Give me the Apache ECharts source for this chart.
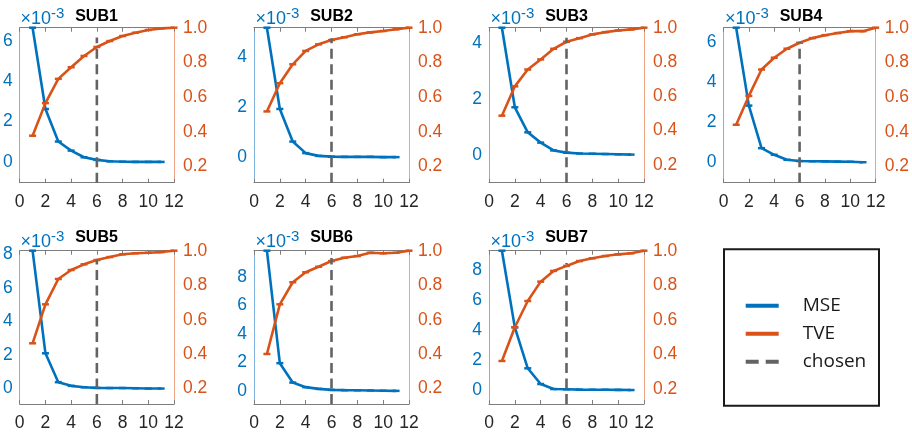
<!DOCTYPE html>
<html>
<head>
<meta charset="utf-8">
<script src="https://cdn.jsdelivr.net/npm/echarts@6/dist/echarts.min.js"></script>
<style>
  html, body { margin: 0; padding: 0; background: #ffffff; }
  #chart { width: 912px; height: 440px; }
</style>
</head>
<body>
<div id="chart"></div>
<script>
// ---- data -------------------------------------------------------------
const subjects = ['SUB1', 'SUB2', 'SUB3', 'SUB4', 'SUB5', 'SUB6', 'SUB7'];

// number of retained components
const tveComponents = [1, 2, 3, 4, 5, 6, 7, 8, 9, 10, 11, 12];
const mseComponents = [1, 2, 3, 4, 5, 6, 7, 8, 9, 10, 11];

// reconstruction error, in units of 1e-3
const mseSub1 = [6.65, 2.62, 1.01, 0.56, 0.23, 0.10, 0.03, 0.01, 0.00, 0.00, 0.00];
const mseSub2 = [5.16, 1.92, 0.62, 0.16, 0.05, 0.02, 0.01, 0.01, 0.01, 0.00, 0.00];
const mseSub3 = [4.57, 1.71, 0.81, 0.44, 0.16, 0.08, 0.05, 0.04, 0.03, 0.02, 0.01];
const mseSub4 = [6.70, 2.82, 0.70, 0.37, 0.12, 0.06, 0.05, 0.04, 0.03, 0.02, 0.00];
const mseSub5 = [8.21, 2.10, 0.38, 0.16, 0.08, 0.04, 0.03, 0.03, 0.02, 0.00, 0.00];
const mseSub6 = [9.82, 1.94, 0.58, 0.26, 0.14, 0.07, 0.05, 0.04, 0.03, 0.01, 0.00];
const mseSub7 = [9.29, 4.18, 1.45, 0.40, 0.07, 0.05, 0.03, 0.02, 0.02, 0.01, 0.00];

// total variance explained
const tveSub1 = [0.377, 0.565, 0.705, 0.772, 0.837, 0.889, 0.923, 0.952, 0.971, 0.987, 0.996, 1.000];
const tveSub2 = [0.517, 0.680, 0.789, 0.866, 0.904, 0.929, 0.945, 0.962, 0.973, 0.981, 0.991, 1.000];
const tveSub3 = [0.487, 0.658, 0.756, 0.815, 0.877, 0.918, 0.939, 0.961, 0.974, 0.984, 0.990, 1.000];
const tveSub4 = [0.441, 0.607, 0.759, 0.827, 0.879, 0.913, 0.940, 0.957, 0.969, 0.980, 0.980, 1.000];
const tveSub5 = [0.463, 0.689, 0.836, 0.888, 0.921, 0.946, 0.963, 0.979, 0.985, 0.988, 0.992, 1.000];
const tveSub6 = [0.401, 0.689, 0.817, 0.875, 0.907, 0.940, 0.959, 0.969, 0.988, 0.985, 0.988, 1.000];
const tveSub7 = [0.362, 0.557, 0.709, 0.821, 0.883, 0.912, 0.940, 0.956, 0.969, 0.979, 0.985, 1.000];

// chosen number of components and the height of its marker line (TVE scale)
const chosenK = [6, 6, 6, 6, 6, 6, 6];
const chosenTop = [0.943, 0.939, 0.941, 0.917, 0.946, 0.958, 0.929];

// axis limits and tick labels
const mseMin = [-1.03, -1.02, -1.0, -1.02, -0.92, -0.92, -0.93];
const tveMin = [0.106, 0.106, 0.096, 0.107, 0.111, 0.111, 0.113];
const tveMax = 1.0;
const mseTicksSub1 = [0, 2, 4, 6];
const mseTicksSub2 = [0, 2, 4];
const mseTicksSub3 = [0, 2, 4];
const mseTicksSub4 = [0, 2, 4, 6];
const mseTicksSub5 = [0, 2, 4, 6, 8];
const mseTicksSub6 = [0, 2, 4, 6, 8];
const mseTicksSub7 = [0, 2, 4, 6, 8];
const tveTicks = [0.2, 0.4, 0.6, 0.8, 1.0];
const componentTicks = [0, 2, 4, 6, 8, 10, 12];

const mse = [mseSub1, mseSub2, mseSub3, mseSub4, mseSub5, mseSub6, mseSub7];
const tve = [tveSub1, tveSub2, tveSub3, tveSub4, tveSub5, tveSub6, tveSub7];
const mseTicks = [mseTicksSub1, mseTicksSub2, mseTicksSub3, mseTicksSub4, mseTicksSub5, mseTicksSub6, mseTicksSub7];

// ---- layout & style ---------------------------------------------------
const colLeft = [19, 254, 489, 723.5];
const rowTop = [27.7, 250.7];
const rowHeight = [155, 153.3];
const rowTitleY = [16.3, 237.5];
const plotWidth = 155;

const BLUE = '#0072BD';
const ORANGE = '#D95319';
const GREY = '#636363';
const FONT = '"Liberation Sans", Arial, sans-serif';

const grids = [], xAxes = [], yAxes = [], series = [], graphics = [];

subjects.forEach((name, i) => {
  const col = i % 4, row = Math.floor(i / 4);
  const left = colLeft[col], top = rowTop[row], height = rowHeight[row];

  grids.push({ left: left, top: top, width: plotWidth, height: height, containLabel: false });

  const xCommon = {
    gridIndex: i, type: 'value', min: 0, max: 12, interval: 2,
    splitLine: { show: false },
    axisLine: { show: true, onZero: false, lineStyle: { color: '#7d7d7d', width: 1 } },
    axisTick: { show: true, inside: true, length: 4, lineStyle: { color: '#7d7d7d' } }
  };
  xAxes.push(Object.assign({}, xCommon, {
    position: 'bottom',
    axisLabel: {
      show: true, color: '#262626', fontSize: 17.5, fontFamily: FONT, margin: 10,
      customValues: componentTicks
    }
  }));
  xAxes.push(Object.assign({}, xCommon, { position: 'top', axisLabel: { show: false } }));

  // left axis: MSE
  yAxes.push({
    gridIndex: i, type: 'value', position: 'left',
    min: mseMin[i], max: mse[i][0],
    splitLine: { show: false },
    axisLine: { show: true, onZero: false, lineStyle: { color: '#7fb3dd', width: 1 } },
    axisTick: { show: false },
    axisLabel: {
      show: true, customValues: mseTicks[i], color: BLUE, fontSize: 17.5,
      fontFamily: FONT, margin: 7, formatter: v => String(v)
    }
  });
  // right axis: TVE
  yAxes.push({
    gridIndex: i, type: 'value', position: 'right',
    min: tveMin[i], max: tveMax,
    splitLine: { show: false },
    axisLine: { show: true, onZero: false, lineStyle: { color: '#eda584', width: 1 } },
    axisTick: { show: false },
    axisLabel: {
      show: true, customValues: tveTicks, color: ORANGE, fontSize: 17.5,
      fontFamily: FONT, margin: 9, formatter: v => v.toFixed(1)
    }
  });

  const xIdx = 2 * i, yLeft = 2 * i, yRight = 2 * i + 1;

  series.push({
    name: 'MSE', type: 'line', xAxisIndex: xIdx, yAxisIndex: yLeft,
    data: mseComponents.map((k, j) => [k, mse[i][j]]),
    clip: false, symbol: 'rect', symbolSize: [7, 2.5], showSymbol: true,
    lineStyle: { color: BLUE, width: 2.6 },
    itemStyle: { color: BLUE },
    emphasis: { disabled: true }, z: 3
  });
  series.push({
    name: 'TVE', type: 'line', xAxisIndex: xIdx, yAxisIndex: yRight,
    data: tveComponents.map((k, j) => [k, tve[i][j]]),
    clip: false, symbol: 'rect', symbolSize: [7, 2.5], showSymbol: true,
    lineStyle: { color: ORANGE, width: 2.6 },
    itemStyle: { color: ORANGE },
    emphasis: { disabled: true }, z: 4
  });
  series.push({
    name: 'chosen', type: 'line', xAxisIndex: xIdx, yAxisIndex: yRight,
    data: [[chosenK[i], tveMin[i]], [chosenK[i], chosenTop[i]]],
    showSymbol: false, symbol: 'none',
    lineStyle: { color: GREY, width: 2.6, type: [10, 5.5] },
    itemStyle: { color: GREY },
    emphasis: { disabled: true }, z: 5
  });

  // panel title
  graphics.push({
    type: 'text', x: left + plotWidth / 2, y: rowTitleY[row], silent: true,
    style: {
      text: name, fill: '#000000', fontSize: 16, fontWeight: 'bold', fontFamily: FONT,
      align: 'center', verticalAlign: 'middle'
    }
  });
  // exponent of the MSE axis
  graphics.push({
    type: 'text', x: left + 1.5, y: top - 9, silent: true,
    style: {
      text: '{a|×10}{b|-3}', align: 'left', verticalAlign: 'middle',
      rich: {
        a: { fontSize: 18, fontFamily: FONT, fill: BLUE, lineHeight: 24 },
        b: { fontSize: 15, fontFamily: FONT, fill: BLUE, lineHeight: 14, verticalAlign: 'top' }
      }
    }
  });
});

// legend frame
graphics.push({
  type: 'rect', silent: true,
  shape: { x: 724, y: 249.3, width: 155, height: 156.4 },
  style: { fill: 'none', stroke: '#1a1a1a', lineWidth: 2 }
});

const chart = echarts.init(document.getElementById('chart'), null, { renderer: 'canvas' });
chart.setOption({
  backgroundColor: '#ffffff',
  animation: false,
  grid: grids,
  xAxis: xAxes,
  yAxis: yAxes,
  series: series,
  graphic: graphics,
  legend: {
    orient: 'vertical', left: 740.7, top: 290.7,
    itemWidth: 33, itemHeight: 4, itemGap: 8, selectedMode: false,
    data: [
      { name: 'MSE', icon: 'rect' },
      { name: 'TVE', icon: 'rect' },
      { name: 'chosen', icon: 'path://M0,0H13V4H0Z M20,0H33V4H20Z' }
    ],
    textStyle: {
      fontFamily: '"Open Sans", sans-serif', fontSize: 19, color: '#1a1a1a',
      lineHeight: 20, padding: [0, 0, 0, 19]
    }
  }
});
</script>
</body>
</html>
